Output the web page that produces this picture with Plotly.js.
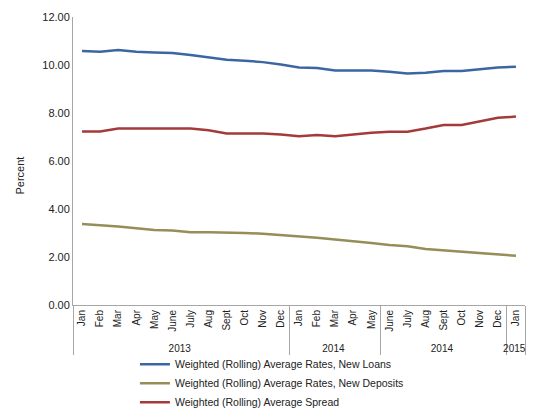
<!DOCTYPE html>
<html>
<head>
<meta charset="utf-8">
<script src="https://cdn.plot.ly/plotly-3.0.1.min.js"></script>
<style>
html,body{margin:0;padding:0;background:#fff;}
#chart{width:536px;height:411px;}
</style>
</head>
<body>
<div id="chart"></div>
<script>
var years = ['2013','2013','2013','2013','2013','2013','2013','2013','2013','2013','2013','2013',
  '2014','2014','2014','2014','2014',
  '2014\u200B','2014\u200B','2014\u200B','2014\u200B','2014\u200B','2014\u200B','2014\u200B',
  '2015'];
var months = ['Jan','Feb','Mar','Apr','May','June','July','Aug','Sept','Oct','Nov','Dec',
  'Jan','Feb','Mar','Apr','May',
  'June','July','Aug','Sept','Oct','Nov','Dec',
  'Jan'];
var newLoans = [10.58,10.55,10.62,10.55,10.52,10.50,10.42,10.33,10.22,10.18,10.12,10.02,
  9.90,9.87,9.77,9.77,9.77,9.72,9.65,9.68,9.75,9.75,9.82,9.90,9.93];
var newDeposits = [3.37,3.33,3.27,3.20,3.13,3.10,3.03,3.03,3.03,3.00,2.97,2.92,
  2.88,2.80,2.73,2.67,2.58,2.50,2.45,2.33,2.27,2.23,2.17,2.10,2.05];
var spread = [7.23,7.23,7.35,7.35,7.38,7.38,7.35,7.28,7.15,7.15,7.15,7.10,
  7.03,7.08,7.03,7.10,7.18,7.22,7.22,7.35,7.50,7.50,7.65,7.80,7.85];
var seriesNames = ['Weighted (Rolling) Average Rates, New Loans',
  'Weighted (Rolling) Average Rates, New Deposits',
  'Weighted (Rolling) Average Spread'];

var fontFam = '"Liberation Sans", Arial, sans-serif';
var x = [years, months];
var traces = [
  {x:x, y:newLoans, name:seriesNames[0], type:'scatter', mode:'lines', line:{color:'#3B66A2', width:2.5}},
  {x:x, y:newDeposits, name:seriesNames[1], type:'scatter', mode:'lines', line:{color:'#978D58', width:2.5}},
  {x:x, y:spread, name:seriesNames[2], type:'scatter', mode:'lines', line:{color:'#A53A3A', width:2.5}}
];
var layout = {
  width:536, height:411,
  margin:{l:73, r:11, t:17, b:106},
  paper_bgcolor:'#fff', plot_bgcolor:'#fff',
  font:{family:fontFam, size:11, color:'#222'},
  showlegend:true,
  legend:{x:0.137, xref:'paper', y:0.149, yref:'container', xanchor:'left', yanchor:'top', orientation:'v',
    font:{family:fontFam, size:10.5, color:'#222'}, tracegroupgap:0, itemwidth:30,
    bgcolor:'rgba(0,0,0,0)'},
  xaxis:{type:'multicategory', range:[-0.5, 24.5], showline:true, linecolor:'#a6a6a6', linewidth:1,
    tickangle:-90, tickfont:{family:fontFam, size:10, color:'#222'},
    showgrid:false, zeroline:false, ticks:'', showdividers:true,
    dividercolor:'#a6a6a6', dividerwidth:1, fixedrange:true},
  yaxis:{range:[0,12], dtick:2, tickformat:'.2f', showline:true, linecolor:'#a6a6a6',
    linewidth:1, showgrid:false, zeroline:false, ticks:'', ticklen:0,
    tickfont:{family:fontFam, size:11, color:'#222'}, fixedrange:true},
  annotations:[{text:'Percent', xref:'paper', yref:'paper', x:-0.117, xanchor:'center', y:0.45,
    showarrow:false, textangle:-90, font:{family:fontFam, size:11, color:'#222'}}]
};
Plotly.newPlot('chart', traces, layout, {displayModeBar:false, staticPlot:true});
</script>
</body>
</html>
